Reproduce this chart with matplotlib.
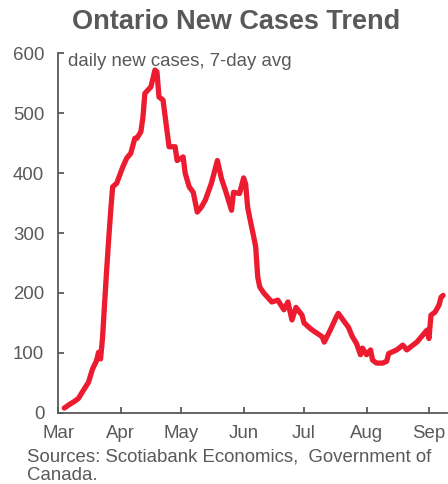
import numpy as np
import pandas as pd
import matplotlib
matplotlib.use("Agg")
import matplotlib.pyplot as plt

# 7-day average of daily new cases in Ontario
dates = ["2020-03-04", "2020-03-07", "2020-03-09", "2020-03-11", "2020-03-13",
         "2020-03-16", "2020-03-18", "2020-03-20", "2020-03-21", "2020-03-22",
         "2020-03-23", "2020-03-24", "2020-03-25", "2020-03-26", "2020-03-27",
         "2020-03-28", "2020-03-30", "2020-04-02", "2020-04-04", "2020-04-06",
         "2020-04-08", "2020-04-09", "2020-04-11", "2020-04-12", "2020-04-13",
         "2020-04-16", "2020-04-18", "2020-04-19", "2020-04-20", "2020-04-22",
         "2020-04-25", "2020-04-28", "2020-04-29", "2020-05-02", "2020-05-03",
         "2020-05-05", "2020-05-07", "2020-05-09", "2020-05-11", "2020-05-13",
         "2020-05-16", "2020-05-19", "2020-05-21", "2020-05-23", "2020-05-26",
         "2020-05-27", "2020-05-30", "2020-06-01", "2020-06-02", "2020-06-03",
         "2020-06-04", "2020-06-06", "2020-06-07", "2020-06-08", "2020-06-09",
         "2020-06-11", "2020-06-15", "2020-06-18", "2020-06-21", "2020-06-23",
         "2020-06-25", "2020-06-27", "2020-06-30", "2020-07-01", "2020-07-04",
         "2020-07-06", "2020-07-10", "2020-07-11", "2020-07-14", "2020-07-17",
         "2020-07-18", "2020-07-21", "2020-07-23", "2020-07-25", "2020-07-27",
         "2020-07-29", "2020-07-30", "2020-08-01", "2020-08-03", "2020-08-04",
         "2020-08-06", "2020-08-09", "2020-08-11", "2020-08-12", "2020-08-16",
         "2020-08-19", "2020-08-21", "2020-08-24", "2020-08-26", "2020-08-29",
         "2020-08-31", "2020-09-01", "2020-09-02", "2020-09-04", "2020-09-06",
         "2020-09-07", "2020-09-08"]
cases = [8, 15, 19, 24, 35,
         51, 73, 87, 101, 90,
         126, 182, 237, 288, 335,
         377, 383, 410, 425, 433,
         458, 458, 469, 492, 533,
         544, 572, 569, 527, 522,
         444, 444, 421, 427, 400,
         377, 368, 335, 343, 355,
         383, 421, 391, 371, 338,
         368, 366, 392, 382, 343,
         326, 294, 277, 227, 210,
         200, 185, 188, 172, 185,
         155, 176, 163, 150, 141,
         136, 127, 118, 138, 160,
         166, 152, 143, 127, 116,
         97, 108, 97, 105, 88,
         83, 83, 86, 99, 105,
         113, 105, 113, 118, 130,
         138, 124, 163, 168, 180,
         193, 196]

month_labels = ["Mar", "Apr", "May", "Jun", "Jul", "Aug", "Sep"]

grey = "#595959"
red = "#ED1B2F"

plt.rcParams['font.family'] = ['Liberation Sans', 'DejaVu Sans']

fig = plt.figure(figsize=(4.48, 4.84), dpi=100)
ax = fig.add_axes([0.130, 0.147, 0.868, 0.743])

x = pd.to_datetime(dates)
ax.plot(x, cases, color=red, lw=3.8, solid_joinstyle='round', solid_capstyle='round')

ax.set_ylim(0, 600)
ax.set_yticks(range(0, 601, 100))
ax.set_xlim(pd.Timestamp("2020-03-01"), pd.Timestamp("2020-09-10"))
ticks = pd.date_range("2020-03-01", "2020-09-01", freq="MS")
ax.set_xticks(ticks)
ax.set_xticklabels(month_labels)

for s in ["top", "right"]:
    ax.spines[s].set_visible(False)
for s in ["left", "bottom"]:
    ax.spines[s].set_color(grey)
    ax.spines[s].set_linewidth(1.3)
ax.tick_params(direction='in', length=4, width=1.3, color=grey,
               labelsize=13.4, labelcolor=grey)
ax.tick_params(axis='y', pad=10)
ax.tick_params(axis='x', pad=9)

ax.text(0.025, 1.0, "daily new cases, 7-day avg", transform=ax.transAxes,
        fontsize=13.4, color=grey, va='top', ha='left')

fig.text(236 / 448, 1 - 22 / 484, "Ontario New Cases Trend", fontsize=19.5,
         fontweight='bold', color=grey, ha='center', va='center')
fig.text(27 / 448, 1 - 466 / 484, "Sources: Scotiabank Economics,  Government of\nCanada.",
         fontsize=13.4, color=grey, ha='left', va='center', linespacing=1.13)

fig.savefig("out.png", dpi=100)
